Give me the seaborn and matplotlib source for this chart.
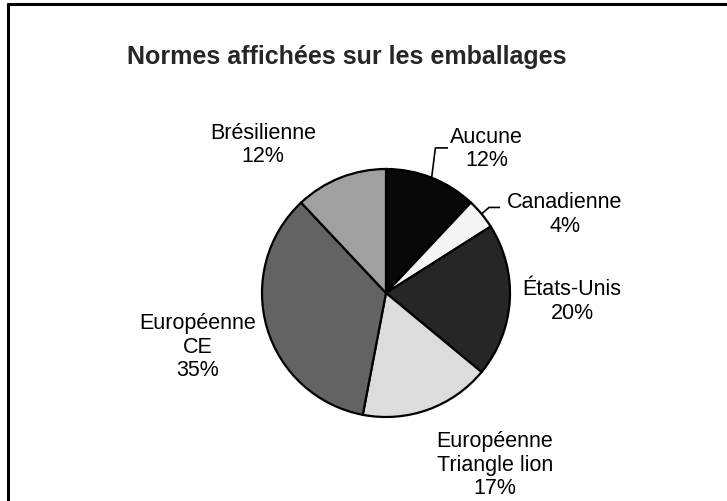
import numpy as np
import matplotlib
matplotlib.use("Agg")
import matplotlib.pyplot as plt
from matplotlib.lines import Line2D
import seaborn as sns

# data
categories = ["Aucune", "Canadienne", "États-Unis", "Européenne\nTriangle lion",
              "Européenne\nCE", "Brésilienne"]
shares = [12, 4, 20, 17, 35, 12]
colors = ["#080808", "#f4f4f4", "#262626", "#dcdcdc", "#636363", "#a0a0a0"]

# label placement (pie units, relative to center) and leader flags
label_pos = [(0.81, 1.17), (1.44, 0.64), (1.50, -0.06), (0.88, -1.38),
             (-1.52, -0.43), (-0.99, 1.20)]
leaders = [True, True, False, False, False, False]

sns.set_theme(style="white")
plt.rcParams["font.family"] = ["Liberation Sans", "DejaVu Sans"]

W, H = 727, 502
cx, cy, r = 386, 294, 124  # pie centre / radius in pixels

fig = plt.figure(figsize=(W / 100, H / 100), dpi=100)
ax = fig.add_axes([0, 0, 1, 1])
ax.axis("off")

wedges, _ = ax.pie(shares, colors=colors, startangle=90, counterclock=False,
                   radius=1, center=(0, 0),
                   wedgeprops=dict(edgecolor="black", linewidth=1.6))
ax.set_xlim(-cx / r, (W - cx) / r)
ax.set_ylim(-(H - cy) / r, cy / r)

for w, name, val, (lx, ly), lead in zip(wedges, categories, shares, label_pos, leaders):
    ax.text(lx, ly, f"{name}\n{val}%", ha="center", va="center",
            fontsize=15.5, color="black", linespacing=1.15)
    if lead:
        ang = np.deg2rad((w.theta1 + w.theta2) / 2)
        x0, y0 = np.cos(ang), np.sin(ang)
        if name == "Aucune":
            xs = [x0, x0 + 0.03, lx - 0.31]
            ys = [y0, ly, ly]
        else:
            xs = [x0, x0 + 0.06, lx - 0.52]
            ys = [y0, ly + 0.05, ly + 0.05]
        ax.plot(xs, ys, color="black", linewidth=1.2, solid_capstyle="butt")

fig.text(347 / W, 1 - 57 / H, "Normes affichées sur les emballages",
         ha="center", va="center", fontsize=18, fontweight="bold")

# chart frame (top and left edges visible in the reference)
fig.add_artist(Line2D([8 / W, 1], [1 - 5 / H, 1 - 5 / H], color="black", linewidth=2.2))
fig.add_artist(Line2D([8 / W, 8 / W], [0, 1 - 5 / H], color="black", linewidth=2.2))

fig.savefig("out.png", dpi=100)
